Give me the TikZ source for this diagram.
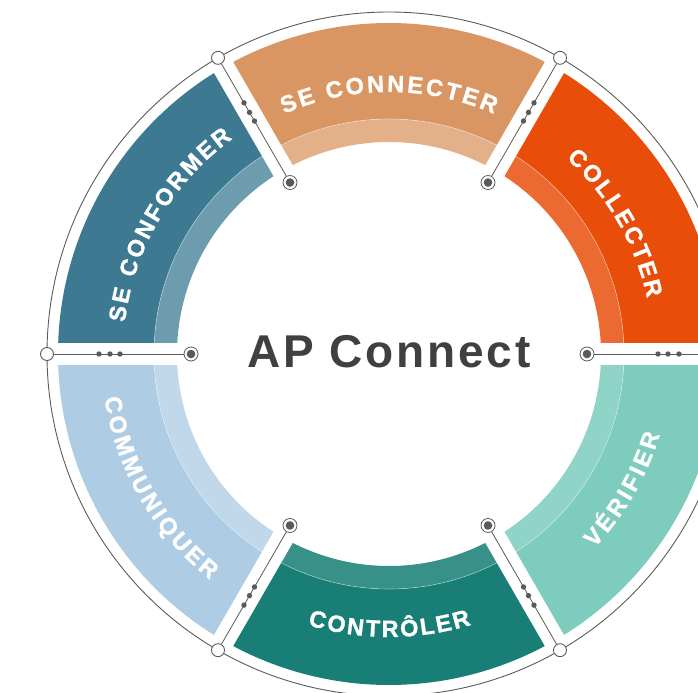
\documentclass[tikz,border=0pt]{standalone}
\usepackage{fontspec}
\setmainfont{Liberation Sans}
\usetikzlibrary{decorations.text,positioning}

\definecolor{connecter}{HTML}{D99663}
\definecolor{Lconnecter}{HTML}{E4B08A}
\definecolor{collecter}{HTML}{E84E0A}
\definecolor{Lcollecter}{HTML}{EC6A31}
\definecolor{verifier}{HTML}{7ECCBE}
\definecolor{Lverifier}{HTML}{8FD4C7}
\definecolor{controler}{HTML}{197F76}
\definecolor{Lcontroler}{HTML}{389189}
\definecolor{communiquer}{HTML}{AECCE3}
\definecolor{Lcommuniquer}{HTML}{C0D8EA}
\definecolor{conformer}{HTML}{3D7A92}
\definecolor{Lconformer}{HTML}{6D9CAF}
\definecolor{wire}{HTML}{5A5A5C}
\definecolor{titlegray}{HTML}{404042}

\newcommand\labelfont{\bfseries\fontsize{23.5bp}{23.5bp}\selectfont\addfontfeatures{FakeBold=1.2}}

\tikzset{
  hub/.style={circle, draw=wire, fill=white, line width=.8bp, inner sep=0pt, minimum size=14bp,
    path picture={\fill[wire] (path picture bounding box.center) circle (4.3bp);}},
  ring/.style={circle, draw=wire, fill=white, line width=.9bp, inner sep=0pt, minimum size=13bp},
  spoke/.style={draw=wire, line width=.8bp},
  seglabel/.style={decorate, decoration={text along path, text color=white,
    text={|\labelfont|#1}, text align={fit to path}}},
}

\begin{document}
\begin{tikzpicture}[x=1bp, y=1bp]
  \useasboundingbox (-389,-339) rectangle (309,354);
  % les six secteurs
  \foreach \a/\col in {60/connecter, 0/collecter, -60/verifier, -120/controler, 180/communiquer, 120/conformer} {
    \fill[\col] (\a:235) arc (\a:\a+60:235) -- (\a+60:331) arc (\a+60:\a:331) -- cycle;
    \fill[L\col] (\a:212) arc (\a:\a+60:212) -- (\a+60:235) arc (\a+60:\a:235) -- cycle;
  }
  \draw[white, opacity=.45, line width=.6bp] (0,0) circle (235);
  % separations
  \foreach \a in {0,60,...,300}
    \draw[white, line width=22bp] (\a:185) -- (\a:337);
  \draw[wire, line width=.9bp] (0,0) circle (342);

  % textes courbes
  \path[seglabel=SE CONNECTER] (113.6:262) arc (113.6:66.4:262);
  \path[seglabel=COLLECTER] (47.8:264) arc (47.8:12.2:264);
  \path[seglabel=SE CONFORMER] (173.2:266) arc (173.2:126:266);
  \path[seglabel=VÉRIFIER] (-43.4:282.5) arc (-43.4:-16.6:282.5);
  \path[seglabel=CONTRÔLER] (-106.7:283) arc (-106.7:-73.1:283);
  \path[seglabel=COMMUNIQUER] (188.8:288) arc (188.8:231.6:288);

  % rayons
  \foreach \a [count=\i] in {0,60,...,300} {
    \node[hub] (hub\i) at (\a:198) {};
    \node[ring] (rim\i) at (\a:342) {};
    \draw[spoke] (hub\i) -- (rim\i);
    \foreach \r in {269,279,290}
      \fill[wire] (\a:\r) circle (2.7);
  }

  \node[font=\bfseries\fontsize{46bp}{46bp}\selectfont\addfontfeatures{LetterSpace=6}, text=titlegray] (title) at (0,2) {AP Connect};
\end{tikzpicture}
\end{document}
